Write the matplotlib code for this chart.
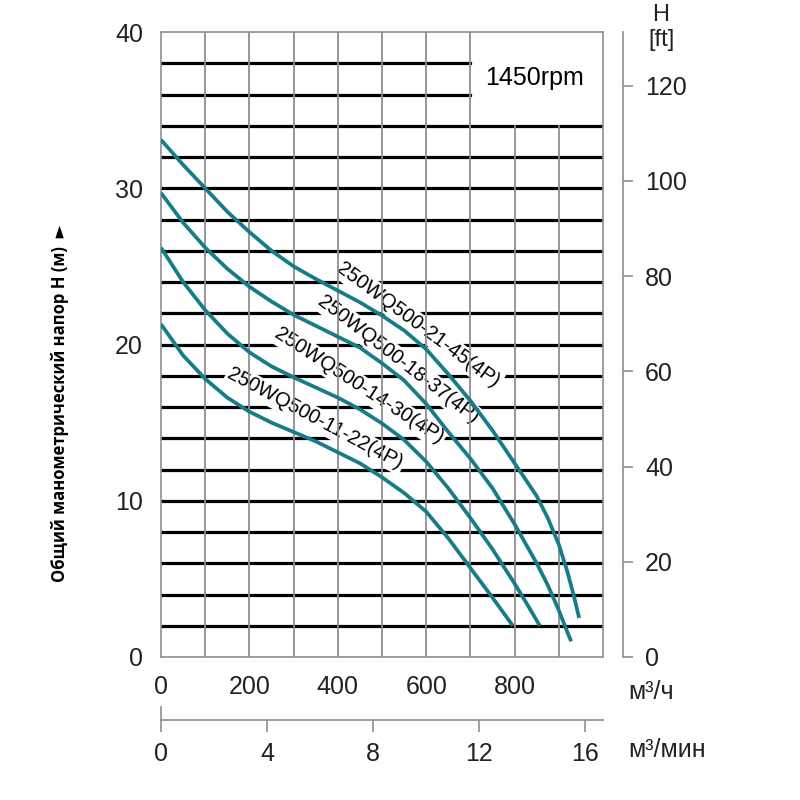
import numpy as np
import matplotlib
matplotlib.use("Agg")
import matplotlib.pyplot as plt

plt.rcParams['font.family'] = ['Liberation Sans', 'DejaVu Sans']

#### Curve data (Q in m3/h, H in m)
q_21_45 = [0, 50, 100, 150, 200, 250, 300, 350, 400, 450, 500, 550, 600, 650, 700, 750, 800, 850, 875, 900, 920, 935, 946]
h_21_45 = [33.1, 31.5, 30.0, 28.5, 27.2, 26.0, 25.0, 24.2, 23.45, 22.7, 21.85, 20.9, 19.7, 18.1, 16.4, 14.5, 12.4, 10.3, 8.9, 7.2, 5.4, 3.8, 2.5]

q_18_37 = [0, 50, 100, 150, 200, 250, 300, 350, 400, 450, 500, 550, 600, 650, 700, 750, 800, 850, 875, 900, 915, 928]
h_18_37 = [29.7, 27.8, 26.2, 24.85, 23.7, 22.75, 21.9, 21.2, 20.5, 19.8, 18.8, 17.7, 16.2, 14.4, 12.7, 10.8, 8.5, 6.0, 4.6, 3.0, 1.9, 1.0]

q_14_30 = [0, 50, 100, 150, 200, 250, 300, 350, 400, 450, 500, 550, 600, 650, 700, 750, 800, 830, 857]
h_14_30 = [26.2, 24.0, 22.2, 20.7, 19.5, 18.6, 17.9, 17.25, 16.6, 15.85, 14.95, 13.9, 12.5, 10.8, 8.9, 6.9, 4.7, 3.3, 2.0]

q_11_22 = [0, 50, 100, 150, 200, 250, 300, 350, 400, 450, 500, 550, 600, 650, 700, 750, 796]
h_11_22 = [21.3, 19.3, 17.8, 16.6, 15.7, 15.0, 14.4, 13.8, 13.1, 12.4, 11.5, 10.5, 9.3, 7.6, 5.7, 3.8, 2.0]

curves = [
    ('250WQ500-21-45(4P)', q_21_45, h_21_45),
    ('250WQ500-18-37(4P)', q_18_37, h_18_37),
    ('250WQ500-14-30(4P)', q_14_30, h_14_30),
    ('250WQ500-11-22(4P)', q_11_22, h_11_22),
]

# label centre (Q, H) and angle of each model name
label_pos = [(582, 21.25, -36.5), (537, 19.05, -37.5), (448, 17.35, -33.0), (349, 15.25, -28.0)]

q_ticks = [0, 200, 400, 600, 800]
h_ticks = [0, 10, 20, 30, 40]
ft_ticks = [0, 20, 40, 60, 80, 100, 120]
qmin_ticks = [0, 4, 8, 12, 16]

teal = '#187c88'
gray = '#8f8f8f'

fig = plt.figure(figsize=(8, 8), dpi=100)
ax = fig.add_axes([161/800, 1 - 657/800, 442/800, 625/800])
ax.set_xlim(0, 1000)
ax.set_ylim(0, 40)

# grid: thin gray verticals, thick black horizontals (top right box left open)
for x in range(100, 1000, 100):
    top = 40 if x <= 700 else 34
    ax.plot([x, x], [0, top], color=gray, lw=1.3, zorder=2.5)
for y in range(2, 40, 2):
    right = 1000 if y <= 34 else 700
    ax.plot([0, right], [y, y], color='black', lw=2.3, zorder=1)

for name, q, h in curves:
    ax.plot(q, h, color=teal, lw=2.7, zorder=3, solid_capstyle='butt', solid_joinstyle='round')

for (name, q, h), (lx, ly, rot) in zip(curves, label_pos):
    ax.text(lx, ly, name, rotation=rot, rotation_mode='anchor', ha='center', va='center',
            fontsize=14.5, zorder=2,
            bbox=dict(facecolor='white', edgecolor='none', pad=1.5))

ax.text(845, 37.05, '1450rpm', ha='center', va='center', fontsize=18)

for s in ax.spines.values():
    s.set_color(gray)
    s.set_linewidth(1.2)
ax.set_xticks(q_ticks)
ax.set_yticks(h_ticks)
ax.tick_params(length=0, labelsize=18, colors='#222222')
ax.tick_params(axis='x', pad=13)
ax.tick_params(axis='y', pad=13)

# feet scale on the right
ax2 = ax.twinx()
ax2.set_ylim(0, 40 * 3.28084)
ax2.set_yticks(ft_ticks)
for k in ['left', 'top', 'bottom']:
    ax2.spines[k].set_visible(False)
ax2.spines['right'].set_position(('axes', (623 - 161) / 442))
ax2.spines['right'].set_color(gray)
ax2.spines['right'].set_linewidth(1.2)
ax2.tick_params(axis='y', length=7, width=1.2, color=gray, labelsize=18, labelcolor='#222222', pad=9)

# m3/min scale below
ax3 = fig.add_axes([161/800, 0.085, 442/800, 0.015])
ax3.set_facecolor('none')
ax3.set_xlim(0, 1000 / 60)
ax3.set_xticks(qmin_ticks)
ax3.set_yticks([])
for k in ['left', 'right', 'bottom']:
    ax3.spines[k].set_visible(False)
ax3.spines['top'].set_color(gray)
ax3.spines['top'].set_linewidth(1.2)
ax3.tick_params(axis='x', direction='in', length=8.6, width=1.2, color=gray,
                labelsize=18, labelcolor='#222222', pad=7)
ax3.plot([0, 0], [1, 2.1], transform=ax3.get_xaxis_transform(), color=gray, lw=1.2, clip_on=False)

fig.text(0.785, 1 - 692/800, 'м³/ч', ha='left', va='center', fontsize=18, color='#222222')
fig.text(0.785, 1 - 750/800, 'м³/мин', ha='left', va='center', fontsize=18, color='#222222')
fig.text(661/800, 1 - 15/800, 'H', ha='center', va='center', fontsize=17, color='#222222')
fig.text(661/800, 1 - 40/800, '[ft]', ha='center', va='center', fontsize=17, color='#222222')

fig.text(60/800, 1 - 403/800, 'Общий манометрический напор H (м)  ►', rotation=90,
         ha='center', va='center', fontsize=12, fontweight='bold',
         family=['Open Sans', 'DejaVu Sans'])

fig.savefig('out.png', dpi=100)
